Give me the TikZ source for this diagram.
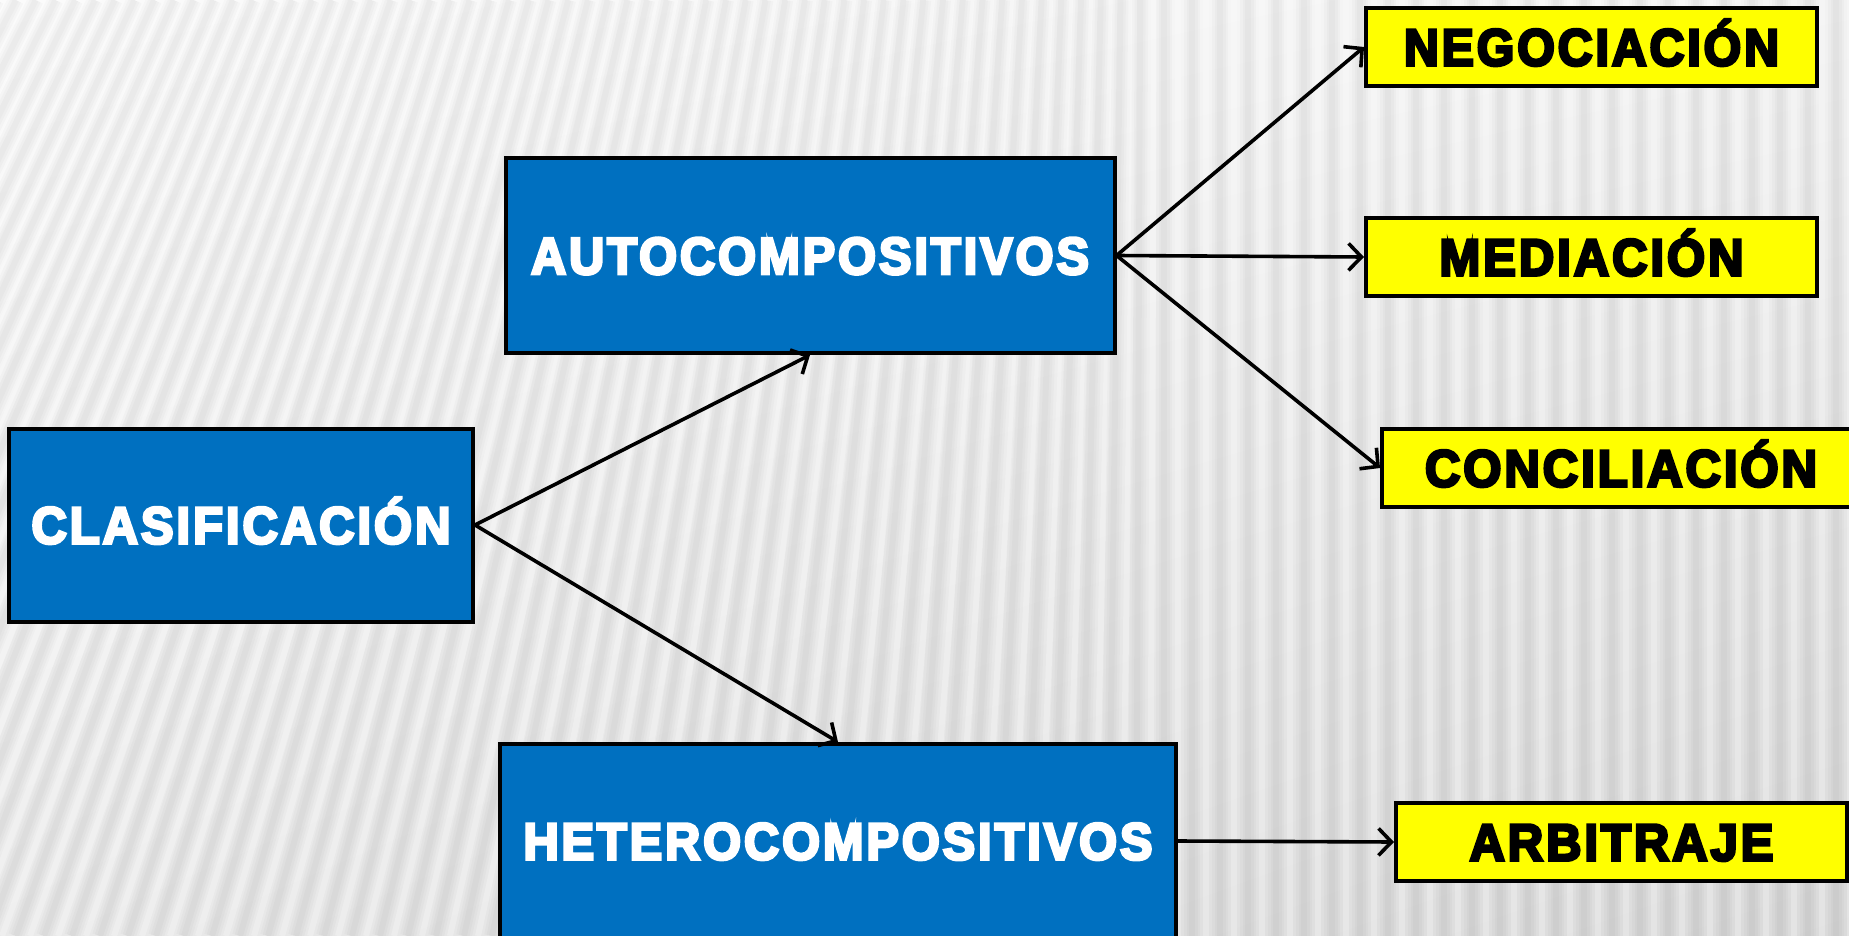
\documentclass[tikz,border=0pt]{standalone}
\usepackage{fontspec}
\usepackage{graphicx}
\usetikzlibrary{arrows.meta,shadings}
\newfontfamily\heavyfont[FakeBold=5.5,LetterSpace=6]{Liberation Sans Bold}
\definecolor{boxblue}{HTML}{0070C0}
\definecolor{boxyellow}{HTML}{FFFF00}
\definecolor{bgA}{HTML}{FBFBFB}
\definecolor{bgB}{HTML}{F2F2F2}
\definecolor{bgC}{HTML}{EAEAEA}
\definecolor{bgD}{HTML}{DADADA}
\newlength\fitwd
\newcommand\fitto[2]{\settowidth{\fitwd}{#2}\pgfmathsetmacro\fitxs{#1/\fitwd}\scalebox{\fitxs}[1]{#2}}
\tikzset{
  bluebox/.style={draw=black, line width=4pt, fill=boxblue, text=white, inner sep=0pt,
    font=\heavyfont\fontsize{52}{58}\selectfont, text height=37pt, text depth=0pt},
  yellowbox/.style={draw=black, line width=4pt, fill=boxyellow, text=black, inner sep=0pt,
    minimum width=451pt, minimum height=78pt,
    font=\heavyfont\fontsize{52}{58}\selectfont, text height=37pt, text depth=0pt},
  link/.style={draw=black, line width=3.6pt, -{Straight Barb[length=13pt,width=27pt,line width=3.6pt]}}
}
\begin{document}
\begin{tikzpicture}[x=1pt,y=-1pt]
\useasboundingbox (0,0) rectangle (1849,936);
\clip (0,0) rectangle (1849,936);
% background
\shade[upper left=bgA, upper right=bgB, lower left=bgC, lower right=bgD] (0,0) rectangle (1849,936);
\foreach \x in {-600,-572,...,1900}{
  \pgfmathsetmacro\dd{max(0,340*(1-(\x)/1150))}
  \draw[black, opacity=0.02, line width=16pt] (\x,936) -- (\x+\dd,0);
  \draw[black, opacity=0.02, line width=11pt] (\x,936) -- (\x+\dd,0);
  \draw[black, opacity=0.02, line width=6pt] (\x,936) -- (\x+\dd,0);
  \draw[white, opacity=0.25, line width=6pt] (\x+14,936) -- (\x+14+\dd,0);
}
% nodes
\node[bluebox, minimum width=464pt, minimum height=193pt] (clas) at (241,525) {\fitto{419}{CLASIFICACIÓN}};
\node[bluebox, minimum width=609pt, minimum height=195pt] (auto) at (810,255.5) {\fitto{558}{AUTOCOMPOSITIVOS}};
\node[bluebox, minimum width=676pt, minimum height=194pt] (hetero) at (838,841) {\fitto{629}{HETEROCOMPOSITIVOS}};
\node[yellowbox] (neg) at (1591.5,47) {\fitto{375}{NEGOCIACIÓN}};
\node[yellowbox] (med) at (1591.5,257) {\fitto{304}{MEDIACIÓN}};
\node[yellowbox, minimum width=478pt] (conc) at (1621,468) {\fitto{392}{CONCILIACIÓN}};
\node[yellowbox] (arb) at (1621.5,842) {\fitto{304}{ARBITRAJE}};
% connectors
\draw[link] (clas.east) -- (auto.south);
\draw[link] (clas.east) -- (hetero.north);
\draw[link] (auto.east) -- (neg.west);
\draw[link] (auto.east) -- (med.west);
\draw[link] (auto.east) -- (conc.west);
\draw[link] (hetero.east) -- (arb.west);
\end{tikzpicture}
\end{document}
